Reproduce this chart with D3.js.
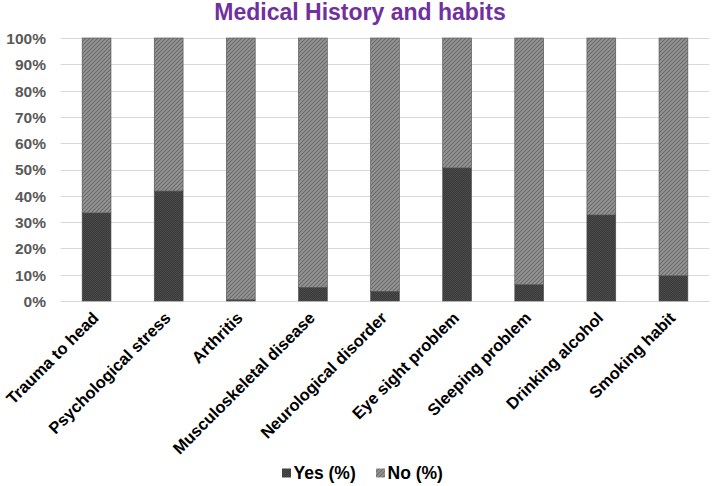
<!DOCTYPE html>
<html><head><meta charset="utf-8">
<script src="https://cdn.jsdelivr.net/npm/d3@7"></script>
<style>body{margin:0;background:#fff}svg{display:block}text{font-family:"Liberation Sans",Arial,sans-serif}</style>
</head><body>
<svg id="chart" width="717" height="486"></svg>
<script>
const categories = ["Trauma to head","Psychological stress","Arthritis","Musculoskeletal disease","Neurological disorder","Eye sight problem","Sleeping problem","Drinking alcohol","Smoking habit"];
const yesValues = [33.5, 41.8, 0.5, 5.2, 3.7, 50.6, 6.2, 32.7, 9.6];
const noValues = [66.5, 58.2, 99.5, 94.8, 96.3, 49.4, 93.8, 67.3, 90.4];
const seriesNames = ["Yes (%)","No (%)"];
const yTicks = [0,10,20,30,40,50,60,70,80,90,100];

const FONT = "'Liberation Sans',Arial,sans-serif";
const svg = d3.select("#chart");
const W = 717, H = 486;
const m = {left: 60.5, right: 7.5, top: 38, bottom: 185};
const x0 = m.left, x1 = W - m.right, y0 = H - m.bottom, y1 = m.top;

const defs = svg.append("defs");
const pNo = defs.append("pattern").attr("id","pNo").attr("patternUnits","userSpaceOnUse").attr("width",4).attr("height",4);
pNo.append("rect").attr("width",4).attr("height",4).attr("fill","#959595");
pNo.append("path").attr("d","M-1,1 l2,-2 M0,4 l4,-4 M3,5 l2,-2").attr("stroke","#6a6a6a").attr("stroke-width",1.1);
const pYes = defs.append("pattern").attr("id","pYes").attr("patternUnits","userSpaceOnUse").attr("width",2).attr("height",2);
pYes.append("rect").attr("width",2).attr("height",2).attr("fill","#3a3a3a");
pYes.append("rect").attr("width",1).attr("height",1).attr("fill","#4a4a4a");
pYes.append("rect").attr("x",1).attr("y",1).attr("width",1).attr("height",1).attr("fill","#4a4a4a");

const x = d3.scaleBand().domain(categories).range([x0, x1]).paddingInner(0.6).paddingOuter(0.3);
const y = d3.scaleLinear().domain([0,100]).range([y0, y1]);

// gridlines
svg.append("g").selectAll("line").data(yTicks).join("line")
  .attr("x1", x0).attr("x2", x1)
  .attr("y1", d => Math.round(y(d))+0.5).attr("y2", d => Math.round(y(d))+0.5)
  .attr("stroke","#d9d9d9").attr("stroke-width",1);

// y axis labels
const yAxis = d3.axisLeft(y).tickValues(yTicks).tickFormat(d => d + "%").tickSize(0).tickPadding(0);
const gy = svg.append("g").attr("transform", `translate(46,0)`).call(yAxis);
gy.select(".domain").remove();
gy.selectAll("text").attr("font-size",15.5).attr("font-weight","bold").attr("fill","#595959")
  .attr("font-family",FONT).attr("dy","0.35em");

// stacked bars
const rows = categories.map((c,i) => ({cat:c, yes:yesValues[i], no:noValues[i]}));
const stack = d3.stack().keys(["yes","no"])(rows);
const fills = {yes:"url(#pYes)", no:"url(#pNo)"};
svg.append("g").selectAll("g").data(stack).join("g")
  .attr("fill", s => fills[s.key])
  .selectAll("rect").data(s => s).join("rect")
  .attr("x", d => x(d.data.cat)).attr("width", x.bandwidth())
  .attr("y", d => y(d[1])).attr("height", d => Math.max(0, y(d[0]) - y(d[1])))
  .attr("stroke","#4d4d4d").attr("stroke-width",0.6);

// x labels rotated
const xAxis = d3.axisBottom(x).tickSize(0).tickPadding(0);
const gx = svg.append("g").attr("transform", `translate(0,${y0})`).call(xAxis);
gx.select(".domain").remove();
gx.selectAll("text")
  .attr("font-size",16.5).attr("font-weight","bold").attr("fill","#000")
  .attr("font-family",FONT)
  .attr("text-anchor","end").attr("dy",0).attr("y",0)
  .attr("transform","translate(3,18) rotate(-45)");

// title
svg.append("text").attr("x", 360).attr("y", 20).attr("text-anchor","middle")
  .attr("font-size",23).attr("font-weight","bold").attr("fill","#7030a0")
  .text("Medical History and habits");

// legend
const legend = svg.append("g");
const legX = [282, 376];
seriesNames.forEach((n,i) => {
  legend.append("rect").attr("x", legX[i]).attr("y", 468.5).attr("width", 9).attr("height", 9)
    .attr("fill", i===0 ? "url(#pYes)" : "url(#pNo)");
  legend.append("text").attr("x", legX[i] + 11.5).attr("y", 478.5).attr("font-size",17.5)
    .attr("font-weight","bold").attr("fill","#000").attr("font-family",FONT).text(n);
});
</script>
</body></html>
